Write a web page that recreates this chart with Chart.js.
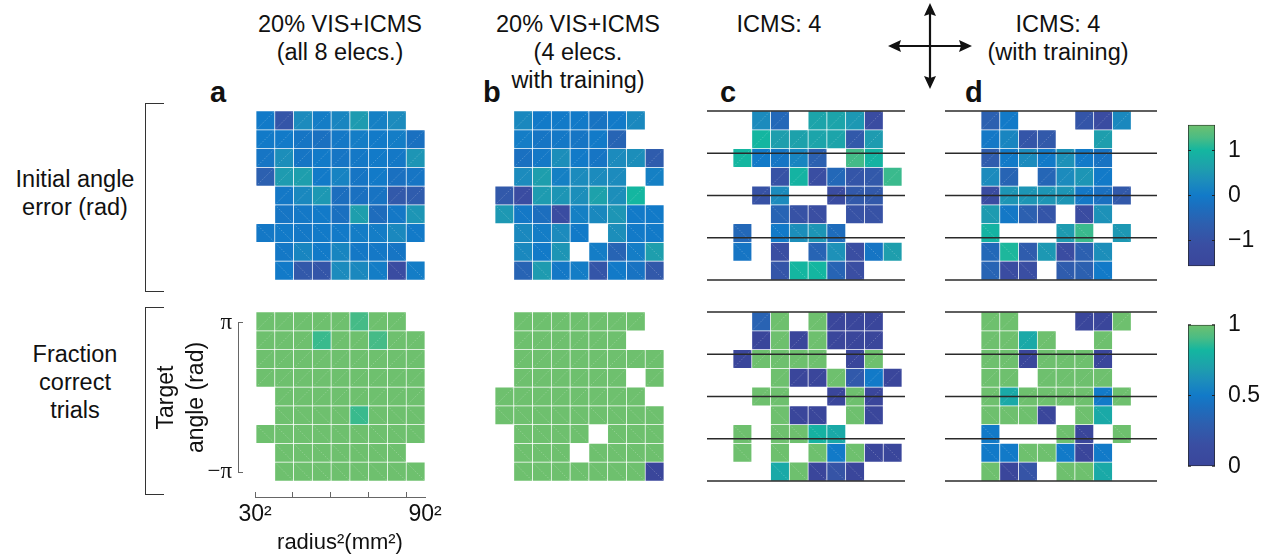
<!DOCTYPE html>
<html>
<head>
<meta charset="utf-8">
<script src="https://cdn.jsdelivr.net/npm/chart.js@4.4.0/dist/chart.umd.min.js"></script>
<style>
  body { margin: 0; background: #fff; }
  #fig { position: relative; width: 1261px; height: 558px; overflow: hidden;
         font-family: 'Liberation Sans', Arial, Helvetica, sans-serif; color: #111; }
  #fig canvas { position: absolute; }
  .txt { position: absolute; white-space: nowrap; text-align: center; transform: translateX(-50%);
         font-size: 23.5px; line-height: 28px; top: 10px; }
  .lbl { position: absolute; font-weight: bold; font-size: 29px; line-height: 29px; top: 78px; }
  .side { position: absolute; text-align: center; transform: translateX(-50%); left: 75px;
          font-size: 23.5px; line-height: 28px; white-space: nowrap; }
  .brk { position: absolute; left: 145px; width: 18px; border: 1.5px solid #333; border-right: none; }
</style>
</head>
<body>
<div id="fig">
  <div class="txt" style="left:340px">20% VIS+ICMS<br>(all 8 elecs.)</div>
  <div class="txt" style="left:578px">20% VIS+ICMS<br>(4 elecs.<br>with training)</div>
  <div class="txt" style="left:779px">ICMS: 4</div>
  <div class="txt" style="left:1058px">ICMS: 4<br>(with training)</div>

  <div class="lbl" style="left:210px">a</div>
  <div class="lbl" style="left:483px">b</div>
  <div class="lbl" style="left:720px">c</div>
  <div class="lbl" style="left:965px">d</div>

  <div class="side" style="top:165px">Initial angle<br>error (rad)</div>
  <div class="side" style="top:340px">Fraction<br>correct<br>trials</div>
  <div class="brk" style="top:103px;height:187px"></div>
  <div class="brk" style="top:307px;height:186px"></div>

  <svg style="position:absolute;left:880px;top:0" width="100" height="95">
    <g stroke="#111" stroke-width="2.2">
      <line x1="18" y1="46" x2="82" y2="46"/>
      <line x1="50" y1="14" x2="50" y2="78"/>
    </g>
    <g fill="#111">
      <polygon points="8,46 21,40 19,46 21,52"/>
      <polygon points="92,46 79,40 81,46 79,52"/>
      <polygon points="50,3 44,16 50,14 56,16"/>
      <polygon points="50,89 44,76 50,78 56,76"/>
    </g>
  </svg>
</div>

<script>
// radius^2 bins (mm^2), 30^2 .. 90^2, and target angle range
const radiusBins = [1300, 2100, 2900, 3700, 4500, 5300, 6100, 6900, 7700];
const radiusTicks = [900, 2500, 4100, 5700, 7300, 8100];
const radiusTickLabels = ['30\u00b2', '', '', '', '', '90\u00b2'];
const angleMin = -Math.PI;
const angleMax = Math.PI;
const angleTicks = [-Math.PI, Math.PI];
const angleTickLabels = ['\u2212\u03c0', '\u03c0'];
const quadrantLines = [-Math.PI, -Math.PI / 2, 0, Math.PI / 2, Math.PI];

const errRange = [-Math.PI / 2, Math.PI / 2];
const errTicks = [-1, 0, 1];
const fracRange = [0, 1];
const fracTicks = [0, 0.5, 1];

const _ = null;
// initial angle error (rad), rows from +pi (top) to -pi (bottom)
const errA = [
  [0, -0.9, 0.3, 0.05, 0.2, 0.55, 0.1, 0.3, _],
  [0, 0, -0.1, -0.2, -0.05, 0.05, 0, 0.05, -0.2],
  [-0.1, 0.35, -0.1, 0, -0.1, -0.05, 0, -0.05, 0.45],
  [-0.6, 0.55, 0.6, 0, 0.15, -0.1, 0, -0.2, -0.1],
  [_, -0.05, 0.25, 0.5, -0.25, -0.2, -0.15, -0.8, -0.7],
  [_, -0.1, -0.05, 0, -0.2, 0.6, -0.3, -0.05, 0.45],
  [-0.05, 0, -0.05, 0, 0, 0.05, 0.05, 0.25, 0],
  [_, -0.05, 0.2, 0, 0.2, -0.05, -0.05, -0.1, _],
  [_, 0, -0.8, -0.9, 0.3, 0.25, 0.05, -1.2, 0.05]
];
const errB = [
  [_, 0.25, 0, 0, 0, -0.15, 0, 0.25, _],
  [_, 0.05, -0.1, -0.05, -0.1, 0, -0.5, _, _],
  [_, -0.2, -0.05, 0.35, 0, -0.1, 0.3, 0.35, -0.7],
  [_, 0.3, 0.6, 0.1, 0.3, 0.3, 0.3, _, 0.1],
  [-0.8, -1.2, 0.55, 0.45, 0.35, 0.65, 0.35, 1.0, _],
  [0.5, -0.05, -0.25, -1.2, 0.1, 0.25, 0.45, 0, 0],
  [_, 0.25, 0.05, 0.3, 0, _, 0.35, 0, 0],
  [_, 0.25, 0, 0.45, _, 0.05, -0.5, 0.05, 0.6],
  [_, -0.5, 0.55, -0.05, 0.05, -0.9, 0, -0.15, -0.8]
];
const errC = [
  [_, 0.3, -0.4, _, 0.7, 0.7, 0.5, -1.2, _],
  [_, 1.0, 0.6, 0.65, 0.7, 0.7, -0.8, 0.55, _],
  [1.0, 0, -0.1, 0.2, -0.6, _, 1.25, 0.95, _],
  [_, _, -1.0, 0.95, -1.1, -0.4, -0.9, -0.8, 1.2],
  [_, -1.0, 0.3, _, _, -1.2, -0.8, -0.8, _],
  [_, _, -0.5, -1.0, -1.1, _, -1.0, -1.0, _],
  [-0.4, _, 0, 0.35, 0.45, -0.3, _, _, _],
  [-0.1, _, -1.1, _, -0.5, 0.4, -1.1, -0.1, 0.6],
  [_, _, -0.9, 1.0, 1.0, -0.5, -1.1, _, _]
];
const errD = [
  [-0.6, 0, _, _, _, -0.9, -1.2, 0.25, _],
  [-0.05, 0.2, -0.9, -0.8, _, _, 0.6, _, _],
  [-0.7, 0, 0.3, 0, 0.4, 0, -0.15, _, _],
  [0.3, -0.5, _, -0.45, 0.3, 0.45, 0, _, _],
  [-1.2, 0.45, 0.45, 0.45, 0.45, -0.05, -0.2, -0.8, _],
  [0.55, -0.05, -0.6, -0.9, _, -1.2, 0.4, _, _],
  [0.95, _, _, _, 0.55, 1.2, _, 0.5, _],
  [-0.4, 1.05, -0.7, 0.5, -1.2, -0.6, 0.35, _, _],
  [-0.5, -1.2, -1.1, _, -0.7, -0.6, 0, _, _]
];
// fraction of correct trials
const fracA = [
  [1, 1, 1, 1, 1, 0.9, 1, 1, _],
  [1, 1, 1, 0.88, 1, 1, 0.9, 1, 1],
  [1, 1, 1, 1, 1, 1, 1, 1, 1],
  [1, 1, 1, 1, 1, 1, 1, 1, 1],
  [_, 1, 1, 1, 1, 1, 1, 1, 1],
  [_, 1, 1, 1, 1, 0.88, 1, 1, 1],
  [1, 1, 1, 1, 1, 1, 1, 1, 1],
  [_, 1, 1, 1, 1, 1, 1, 1, _],
  [_, 1, 1, 1, 1, 1, 1, 1, 1]
];
const fracB = [
  [_, 1, 1, 1, 1, 1, 1, 1, _],
  [_, 1, 1, 1, 1, 1, 1, _, _],
  [_, 1, 1, 1, 1, 1, 1, 1, 1],
  [_, 1, 1, 1, 1, 1, 1, _, 1],
  [1, 1, 1, 1, 1, 1, 1, 1, _],
  [1, 1, 1, 1, 1, 1, 1, 1, 1],
  [_, 1, 1, 1, 1, _, 1, 1, 1],
  [_, 1, 1, 1, _, 1, 1, 1, 1],
  [_, 1, 1, 1, 1, 1, 1, 1, 0]
];
const fracC = [
  [_, 0.33, 1, _, 1, 0, 0, 0, _],
  [_, 0, 1, 0, 1, 0, 0, 0, _],
  [0, 1, 1, 1, 1, _, 0, 1, _],
  [_, _, 1, 0, 0, 1, 0.25, 0.5, 0],
  [_, 1, 1, _, _, 0, 1, 0, _],
  [_, _, 1, 0, 0, _, 1, 0, _],
  [1, _, 1, 1, 0.8, 0.75, _, _, _],
  [1, _, 1, _, 1, 0.5, 1, 0, 0],
  [_, _, 0.75, 1, 0, 0.2, 0, _, _]
];
const fracD = [
  [1, 1, _, _, _, 0, 0, 1, _],
  [1, 1, 0.75, 1, _, _, 1, _, _],
  [1, 1, 0, 1, 1, 1, 0, _, _],
  [1, 1, _, 1, 1, 1, 1, _, _],
  [1, 0.75, 1, 1, 1, 1, 0.5, 1, _],
  [1, 1, 1, 0, _, 1, 0.75, _, _],
  [0.5, _, _, _, 1, 0, _, 1, _],
  [0.5, 0.5, 1, 1, 0.5, 0, 0.5, _, _],
  [1, 0, 0.2, _, 1, 1, 0.75, _, _]
];

// parula-like colour map used by both colour bars
const cmapStops = [
  [0.00, [58, 70, 155]],
  [0.15, [58, 78, 162]],
  [0.30, [45, 95, 175]],
  [0.42, [28, 110, 190]],
  [0.50, [18, 122, 200]],
  [0.60, [28, 140, 188]],
  [0.70, [30, 160, 172]],
  [0.82, [20, 182, 160]],
  [0.91, [75, 188, 132]],
  [1.00, [110, 192, 110]]
];

Chart.defaults.font.family = "'Liberation Sans', Arial, Helvetica, sans-serif";
Chart.defaults.color = '#111';

function colorFor(v, range) {
  let t = (v - range[0]) / (range[1] - range[0]);
  t = Math.max(0, Math.min(1, t));
  for (let i = 1; i < cmapStops.length; i++) {
    const [t1, c1] = cmapStops[i];
    const [t0, c0] = cmapStops[i - 1];
    if (t <= t1) {
      const f = (t - t0) / (t1 - t0);
      const c = c0.map((x, k) => Math.round(x + (c1[k] - x) * f));
      return `rgb(${c[0]},${c[1]},${c[2]})`;
    }
  }
  return 'rgb(110,192,110)';
}

const fig = document.getElementById('fig');
function makeCanvas(left, top, w, h) {
  const c = document.createElement('canvas');
  c.width = w; c.height = h;
  c.style.left = left + 'px'; c.style.top = top + 'px';
  c.style.width = w + 'px'; c.style.height = h + 'px';
  fig.appendChild(c);
  return c;
}

// thin diagonal in every cell + the quadrant lines of panels c and d
const cellPlugin = {
  id: 'cells',
  afterDatasetsDraw(chart, args, opts) {
    const ctx = chart.ctx;
    ctx.save();
    ctx.strokeStyle = 'rgba(255,255,255,0.38)';
    ctx.lineWidth = 0.6;
    ctx.setLineDash([1.5, 1.5]);
    chart.data.datasets.forEach((ds, i) => {
      chart.getDatasetMeta(i).data.forEach((bar, j) => {
        if (ds.data[j] === null) return;
        const p = bar.getProps(['x', 'y', 'base', 'width']);
        ctx.beginPath();
        ctx.moveTo(p.x - p.width / 2, p.base);
        ctx.lineTo(p.x + p.width / 2, p.y);
        ctx.stroke();
      });
    });
    ctx.setLineDash([]);
    if (opts.lines) {
      const ys = chart.scales.y, area = chart.chartArea;
      ctx.strokeStyle = '#2a2a2a';
      ctx.lineWidth = 1.6;
      opts.lines.forEach(v => {
        const py = ys.getPixelForValue(v);
        ctx.beginPath();
        ctx.moveTo(area.left - opts.ext[0], py);
        ctx.lineTo(area.right + opts.ext[1], py);
        ctx.stroke();
      });
    }
    ctx.restore();
  }
};

const GRID = 169, PAD = 40;
function heatmap(left, top, grid, range, lineOpts) {
  const canvas = makeCanvas(left - PAD, top - 5, GRID + 2 * PAD, GRID + 10);
  const rowSpan = (angleMax - angleMin) / grid.length;
  const datasets = grid.map((row, r) => ({
    vals: row,
    data: row.map(v => v === null ? null : [angleMax - (r + 1) * rowSpan, angleMax - r * rowSpan]),
    backgroundColor: c => colorFor(c.dataset.vals[c.dataIndex], range),
    borderColor: 'rgba(255,255,255,0.28)',
    borderWidth: 0.7,
    borderSkipped: false,
    grouped: false,
    barPercentage: 1,
    categoryPercentage: 1
  }));
  new Chart(canvas, {
    type: 'bar',
    data: { labels: radiusBins, datasets: datasets },
    options: {
      responsive: false,
      animation: false,
      events: [],
      layout: { padding: { left: PAD, right: PAD, top: 5, bottom: 5 } },
      plugins: {
        legend: { display: false },
        tooltip: { enabled: false },
        cells: lineOpts || {}
      },
      scales: {
        x: { display: false },
        y: { display: false, min: angleMin, max: angleMax }
      }
    },
    plugins: [cellPlugin]
  });
}

// colour bars
const barTickPlugin = {
  id: 'barTicks',
  afterDatasetsDraw(chart) {
    const ctx = chart.ctx, a = chart.chartArea, ys = chart.scales.y;
    ctx.save();
    ctx.strokeStyle = '#222';
    ctx.lineWidth = 1;
    ys.ticks.forEach(t => {
      const py = ys.getPixelForValue(t.value);
      ctx.beginPath();
      ctx.moveTo(a.left, py); ctx.lineTo(a.left + 3, py);
      ctx.moveTo(a.right, py); ctx.lineTo(a.right - 3, py);
      ctx.stroke();
    });
    ctx.restore();
  }
};

function colorbar(top, range, ticks) {
  const canvas = makeCanvas(1183, top - 5, 77, GRID + 10);
  new Chart(canvas, {
    type: 'bar',
    data: {
      labels: [''],
      datasets: [{
        data: [range],
        backgroundColor: c => {
          const a = c.chart.chartArea;
          if (!a) return null;
          const g = c.chart.ctx.createLinearGradient(0, a.bottom, 0, a.top);
          cmapStops.forEach(s => g.addColorStop(s[0], `rgb(${s[1].join(',')})`));
          return g;
        },
        borderColor: '#222',
        borderWidth: 1,
        borderSkipped: false,
        barPercentage: 1,
        categoryPercentage: 1
      }]
    },
    options: {
      responsive: false,
      animation: false,
      events: [],
      layout: { padding: { left: 5, right: 0, top: 5, bottom: 5 } },
      plugins: { legend: { display: false }, tooltip: { enabled: false } },
      scales: {
        x: { display: false },
        y: {
          position: 'right',
          min: range[0], max: range[1],
          afterBuildTicks: s => { s.ticks = ticks.map(v => ({ value: v })); },
          afterFit: s => { s.width = 45; },
          grid: { display: false },
          border: { display: false },
          ticks: {
            padding: 5,
            font: { size: 23 },
            callback: v => v < 0 ? '\u2212' + (-v) : String(v)
          }
        }
      }
    },
    plugins: [barTickPlugin]
  });
}

// heat maps
heatmap(256, 111, errA, errRange);
heatmap(495, 111, errB, errRange);
heatmap(733, 111, errC, errRange, { lines: quadrantLines, ext: [26, 3] });
heatmap(981, 111, errD, errRange, { lines: quadrantLines, ext: [36, 7] });
heatmap(256, 312, fracA, fracRange);
heatmap(495, 312, fracB, fracRange);
heatmap(733, 312, fracC, fracRange, { lines: quadrantLines, ext: [26, 3] });
heatmap(981, 312, fracD, fracRange, { lines: quadrantLines, ext: [36, 7] });

colorbar(111, errRange, errTicks);
colorbar(311, fracRange, fracTicks);

// detached y axis: target angle
new Chart(makeCanvas(130, 303, 113, 189), {
  type: 'scatter',
  data: { datasets: [] },
  options: {
    responsive: false, animation: false, events: [],
    layout: { padding: { left: 0, right: 0, top: 10, bottom: 10 } },
    plugins: { legend: { display: false }, tooltip: { enabled: false } },
    scales: {
      x: { display: false, min: 0, max: 1 },
      y: {
        min: angleMin, max: angleMax,
        afterBuildTicks: s => { s.ticks = angleTicks.map(v => ({ value: v })); },
        afterFit: s => { s.width = 108; },
        ticks: {
          padding: 6,
          font: { size: 23, family: "'Liberation Serif', 'Times New Roman', serif" },
          callback: (v, i) => angleTickLabels[i]
        },
        grid: { drawTicks: false, color: '#666', lineWidth: 1 },
        border: { display: true, color: '#666', width: 1 },
        title: {
          display: true,
          text: ['Target', 'angle (rad)'],
          font: { size: 23, lineHeight: 1.3 },
          padding: { top: 22, bottom: 0 }
        }
      }
    }
  }
});

// detached x axis: radius^2
new Chart(makeCanvas(205, 487, 270, 71), {
  type: 'scatter',
  data: { datasets: [] },
  options: {
    responsive: false, animation: false, events: [],
    layout: { padding: { left: 50, right: 50, top: 5, bottom: 0 } },
    plugins: { legend: { display: false }, tooltip: { enabled: false } },
    scales: {
      y: { display: false, min: 0, max: 1 },
      x: {
        type: 'linear',
        min: radiusTicks[0], max: radiusTicks[radiusTicks.length - 1],
        afterBuildTicks: s => { s.ticks = radiusTicks.map(v => ({ value: v })); },
        afterFit: s => { s.height = 61; },
        ticks: {
          padding: 4, maxRotation: 0, autoSkip: false,
          font: { size: 23 },
          callback: (v, i) => radiusTickLabels[i]
        },
        grid: {
          drawTicks: false, lineWidth: 1,
          color: c => (c.tick && c.tick.value === radiusTicks[radiusTicks.length - 1]) ? 'rgba(0,0,0,0)' : '#666'
        },
        border: { display: true, color: '#666', width: 1 },
        title: {
          display: true,
          text: 'radius\u00b2(mm\u00b2)',
          font: { size: 22 },
          padding: { top: 0, bottom: 2 }
        }
      }
    }
  }
});
</script>
</body>
</html>
